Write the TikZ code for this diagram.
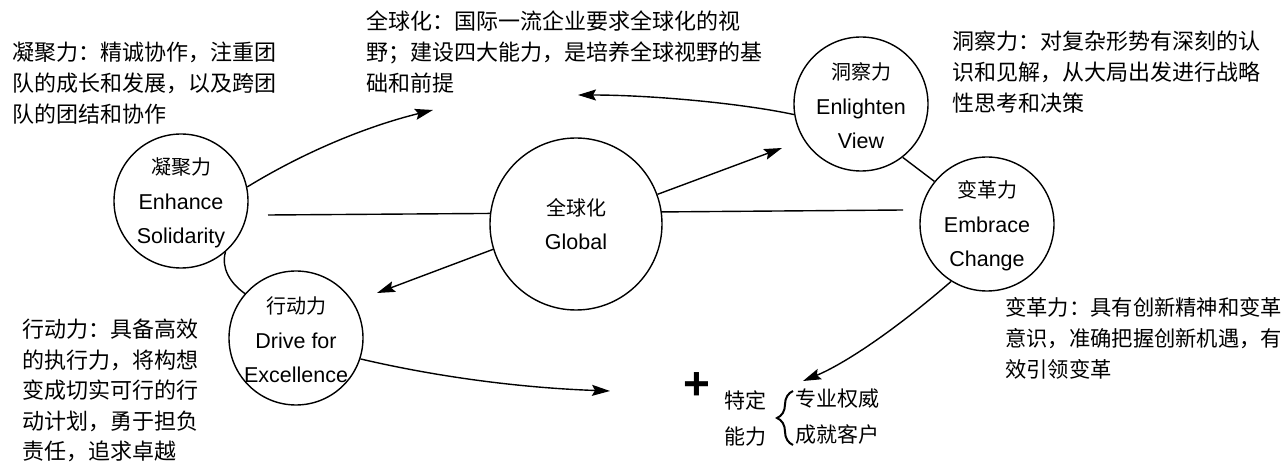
\documentclass[tikz,border=0pt]{standalone}
\usepackage{fontspec}
\setmainfont{Liberation Sans}
\newfontfamily\cjk{Noto Sans CJK SC}
\usetikzlibrary{arrows.meta,decorations.pathreplacing}
\newcommand\zhline[1]{{\cjk\fontsize{20}{34.5}\selectfont #1}}
\begin{document}
\begin{tikzpicture}[x=1pt,y=-1pt,
  ring/.style={circle,draw,line width=1.4pt,inner sep=0pt,minimum size=#1},
  intext/.style={align=center,inner sep=0pt,font=\fontsize{21.5}{34.5}\selectfont},
  desc/.style={align=left,anchor=north west,inner sep=0pt,font=\cjk\fontsize{22}{31}\selectfont},
  conn/.style={line width=1.4pt},
  arr/.style={conn,-{Stealth[length=18pt,width=11pt,inset=3pt]}},
  small/.style={align=left,anchor=north west,inner sep=0pt,font=\cjk\fontsize{21}{36}\selectfont},
]
\useasboundingbox (0,0) rectangle (1286,470);

% circles
\node[ring=134] (sol) at (181,201) {};
\node[ring=134] (drv) at (296,338) {};
\node[ring=172] (glb) at (576,224) {};
\node[ring=134] (enl) at (861,104) {};
\node[ring=134] (emb) at (987,224) {};

% circle texts
\node[intext] (solt) at (181,203) {\zhline{凝聚力}\\Enhance\\Solidarity};
\node[intext] (drvt) at (296,340) {\zhline{行动力}\\Drive for\\Excellence};
\node[intext] (glbt) at (576,224) {\zhline{全球化}\\Global};
\node[intext] (enlt) at (861,106) {\zhline{洞察力}\\Enlighten\\View};
\node[intext] (embt) at (987,226) {\zhline{变革力}\\Embrace\\Change};

% descriptions
\node[desc] (dsol) at (12,42) {凝聚力：精诚协作，注重团\\队的成长和发展，以及跨团\\队的团结和协作};
\node[desc] (dglb) at (366,11) {全球化：国际一流企业要求全球化的视\\野；建设四大能力，是培养全球视野的基\\础和前提};
\node[desc] (denl) at (952,31) {洞察力：对复杂形势有深刻的认\\识和见解，从大局出发进行战略\\性思考和决策};
\node[desc,font=\cjk\fontsize{22}{30.5}\selectfont] (ddrv) at (22,319) {行动力：具备高效\\的执行力，将构想\\变成切实可行的行\\动计划，勇于担负\\责任，追求卓越};
\node[desc,font=\cjk\fontsize{21.3}{31}\selectfont] (demb) at (1005,297) {变革力：具有创新精神和变革\\意识，准确把握创新机遇，有\\效引领变革};

% connectors
\coordinate (a1) at (433,110);
\draw[arr] (sol.12) .. controls (306,151) and (368,126) .. (a1);
\coordinate (a2) at (578,95);
\draw[arr] (enl.189) .. controls (740,103) and (650,95) .. (a2);
\coordinate (a3) at (782,148);
\draw[arr] (glb.20) -- (a3);
\coordinate (l1) at (268,215);
\draw[conn] (l1) -- (glb.173);
\coordinate (r1) at (903,210);
\draw[conn] (glb.8) -- (r1);
\coordinate (a4) at (377,293);
\draw[arr] (glb.197) -- (a4);
\draw[conn] (sol.311) .. controls (221,268) and (230,283) .. (drv.139);
\draw[conn] (enl.-52) -- (emb.141);
\coordinate (a5) at (610,391);
\draw[arr] (drv.-18) .. controls (442,378) and (525,388) .. (a5);
\coordinate (a6) at (803,381);
\draw[arr] (emb.238) .. controls (894,331) and (844,364) .. (a6);

% plus and specific abilities
\node[inner sep=0pt,font=\fontsize{46}{46}\selectfont\bfseries] (plus) at (697,386) {+};
\node[small] (spec) at (724,391) {特定\\能力};
\coordinate (bb) at (793,445);
\coordinate (bt) at (793,391);
\draw[line width=2pt,decorate,decoration={brace,amplitude=16pt}] (bb) -- (bt);
\node[small] (abil) at (795,389) {专业权威\\成就客户};
\end{tikzpicture}
\end{document}
